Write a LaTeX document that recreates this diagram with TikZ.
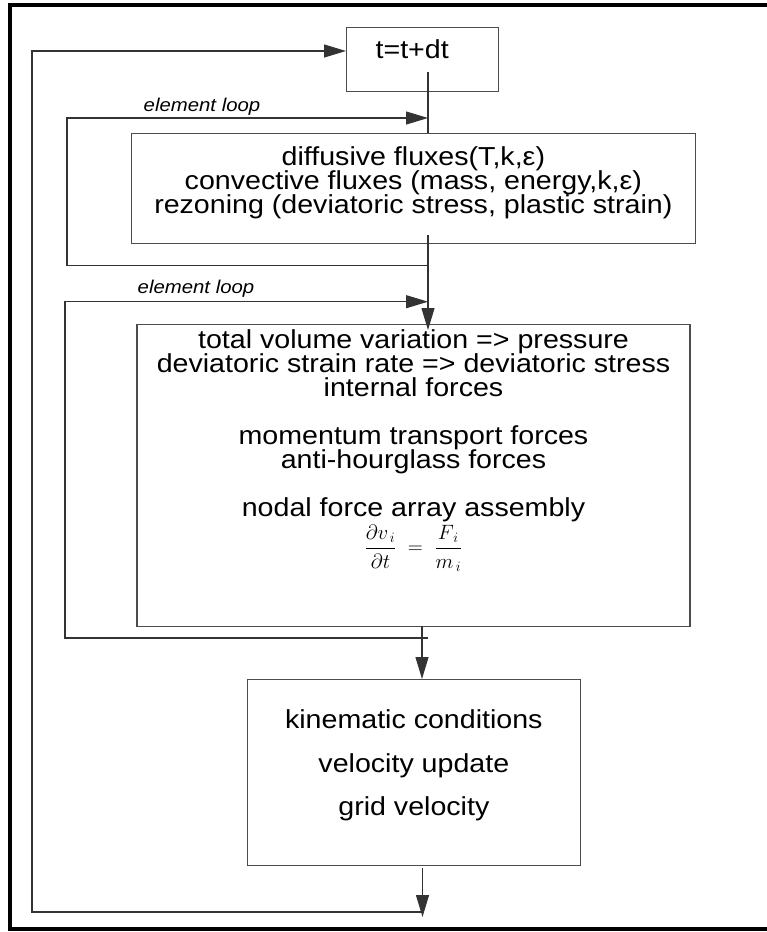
\documentclass[tikz,border=0pt]{standalone}
\usepackage{fontspec}
\setmainfont{Liberation Sans}[FakeStretch=1.1]
\usepackage{amsmath}
\usetikzlibrary{arrows.meta}

% box contents: height, width, top skip, lines
\newcommand{\boxlines}[4]{\parbox[c][#1][t]{#2}{\lineskiplimit=-100pt\centering\vspace*{#3}#4}}

\begin{document}
\begin{tikzpicture}[
  x=1pt,y=-1pt,
  box/.style={draw=black!70,line width=1.2pt,inner sep=0pt,anchor=north west,
    font=\fontsize{26}{24}\selectfont},
  flow/.style={draw=black!80,line width=1.1pt},
  looplabel/.style={font=\fontsize{18.5}{18.5}\selectfont\itshape,inner sep=0pt},
  >={Triangle[length=22pt,width=13pt]}]
\useasboundingbox (0,0) rectangle (767,932);
\draw[line width=4pt] (9.5,5.3) rectangle (772,929);

\node[box] (tstep) at (346,27) {\parbox[c][64pt][t]{152pt}{\vspace*{12.4pt}\hspace*{29pt}t=t+dt}};
\node[box] (fluxes) at (130.5,132.7) {\boxlines{110.3pt}{564.5pt}{13.4pt}{%
  diffusive fluxes(T,k,ε)\\
  convective fluxes (mass, energy,k,ε)\\
  rezoning (deviatoric stress, plastic strain)}};
\node[box] (forces) at (136.4,324) {\boxlines{302pt}{553pt}{5.4pt}{%
  total volume variation => pressure\\
  deviatoric strain rate => deviatoric stress\\
  internal forces\\[24pt]
  momentum transport forces\\
  anti-hourglass forces\\[24pt]
  nodal force array assembly\\[13pt]
  {\fontsize{21}{21}\selectfont$\displaystyle\frac{\partial v_{\,i}}{\partial t}\;=\;\frac{F_{\,i}}{m_{\,i}}$}}};
\node[box] (kinem) at (247,679) {\boxlines{186pt}{332.5pt}{30.4pt}{%
  kinematic conditions\\[19.5pt]
  velocity update\\[19.5pt]
  grid velocity}};

\node[looplabel] (loopa) at (202,107) {element loop};
\node[looplabel] (loopb) at (196,289) {element loop};

\coordinate (tout) at (428,72);
\coordinate (fin) at (428,235);
\coordinate (fout) at (422,626);
\coordinate (kout) at (422.5,868);
\coordinate (kend) at (422.5,917);
\coordinate (ja) at (428,118);
\coordinate (ra) at (428,265.7);
\coordinate (la) at (67,118);
\coordinate (jb) at (428,301.7);
\coordinate (rb) at (428,638);
\coordinate (lb) at (65,301.7);
\coordinate (rc) at (422,912);
\coordinate (lc) at (32,51);

\draw[flow] (tout) -- (fluxes.north -| tout);
\draw[flow,->,shorten >=-6pt] (fin) -- (forces.north -| fin);
\draw[flow,->] (fout) -- (kinem.north -| fout);
\draw[flow,->] (kout) -- (kend);
\draw[flow,->] (ra) -| (la) -- (ja);
\draw[flow,->] (rb) -| (lb) -- (jb);
\draw[flow,->] (rc) -| (lc) -- (tstep.west |- lc);
\end{tikzpicture}
\end{document}
